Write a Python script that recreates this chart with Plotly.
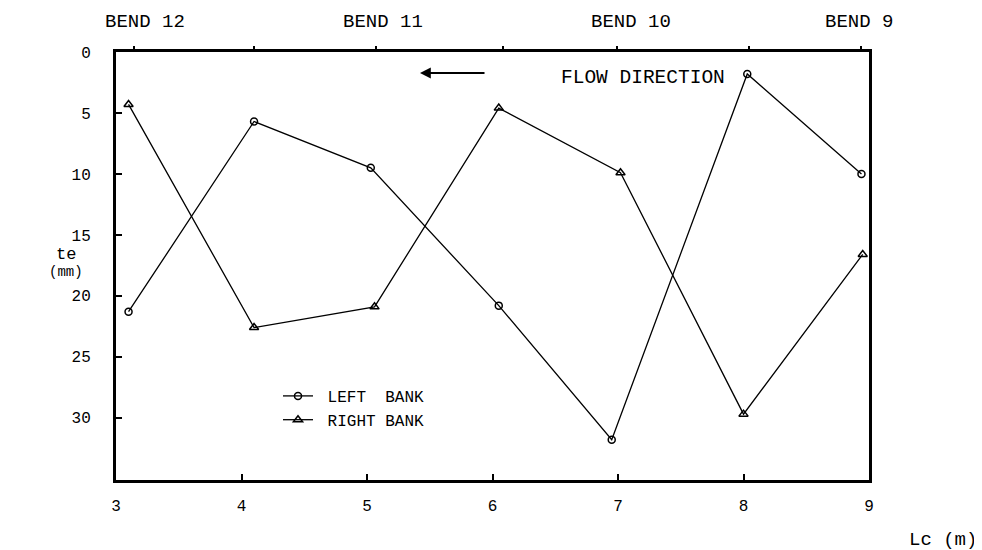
import plotly.graph_objects as go

# Data
left_x = [3.1, 4.1, 5.03, 6.05, 6.95, 8.03, 8.94]
left_te = [21.3, 5.7, 9.5, 20.8, 31.8, 1.8, 10.0]
right_x = [3.1, 4.1, 5.06, 6.05, 7.02, 8.0, 8.95]
right_te = [4.3, 22.6, 20.9, 4.6, 9.9, 29.7, 16.6]
station_x = [3.14, 4.1, 5.07, 6.08, 6.99, 8.04, 8.94]
x_ticks = [3, 4, 5, 6, 7, 8, 9]
y_ticks = [0, 5, 10, 15, 20, 25, 30]
bend_labels = ["BEND 12", "BEND 11", "BEND 10", "BEND 9"]
bend_x = [3.23, 5.13, 7.1, 8.92]
series_names = ["\u00a0LEFT  BANK", "\u00a0RIGHT BANK"]

FONT = "Liberation Mono"
OFF = 8  # default page body margin of the html page
W, H = 982 - OFF, 550 - OFF
# plot area in page pixels: left 116, right 869, top 52, bottom 480
pl = 116 - OFF
pt = 52 - OFF
pr = W - (869 - OFF)
pb = H - (480 - OFF)
pw, ph = W - pl - pr, H - pt - pb


def px_to_paper(px, py):
    """page pixel -> paper coordinates"""
    fx, fy = px - OFF, py - OFF
    return (fx - pl) / pw, 1 - (fy - pt) / ph


fig = go.Figure()
fig.add_trace(go.Scatter(
    x=left_x, y=left_te, mode="lines+markers", name=series_names[0],
    line=dict(color="black", width=1.3),
    marker=dict(symbol="circle-open", size=7, color="black", line=dict(width=1.5)),
))
fig.add_trace(go.Scatter(
    x=right_x, y=right_te, mode="lines+markers", name=series_names[1],
    line=dict(color="black", width=1.3),
    marker=dict(symbol="triangle-up-open", size=8, color="black", line=dict(width=1.5)),
))
# invisible trace to activate the top axis (station ticks)
fig.add_trace(go.Scatter(x=station_x, y=[None] * len(station_x), xaxis="x2",
                         showlegend=False, hoverinfo="skip"))

fig.update_layout(
    width=W, height=H,
    margin=dict(l=pl, r=pr, t=pt, b=pb),
    paper_bgcolor="white", plot_bgcolor="white",
    font=dict(family=FONT, size=16, color="black"),
    xaxis=dict(range=[3, 9], tickvals=x_ticks, ticks="inside", ticklen=6,
               tickwidth=1.5, tickcolor="black", showgrid=False, zeroline=False,
               showline=True, linecolor="black", linewidth=3, mirror=True,
               ticklabelstandoff=9, tickfont=dict(size=16)),
    xaxis2=dict(range=[3, 9], overlaying="x", side="top", tickvals=station_x,
                ticks="outside", ticklen=5, tickwidth=1.5, tickcolor="black",
                showticklabels=False, showgrid=False, zeroline=False, showline=False),
    yaxis=dict(range=[35.1, 0], tickvals=y_ticks, ticks="inside", ticklen=6,
               tickwidth=1.5, tickcolor="black", showgrid=False, zeroline=False,
               showline=True, linecolor="black", linewidth=3, mirror=True,
               ticklabelstandoff=19, tickfont=dict(size=16)),
    legend=dict(x=px_to_paper(278, 0)[0], y=px_to_paper(0, 379)[1],
                xanchor="left", yanchor="top",
                bgcolor="rgba(0,0,0,0)", font=dict(size=16, family=FONT),
                itemwidth=30, tracegroupgap=8),
    showlegend=True,
)

for lab, bx in zip(bend_labels, bend_x):
    fig.add_annotation(x=bx, y=1.0, xref="x", yref="paper", yshift=30,
                       xanchor="center", yanchor="middle",
                       text=lab, showarrow=False, font=dict(size=19, family=FONT))

fx, fy = px_to_paper(643, 78)
fig.add_annotation(x=fx, y=fy, xref="paper", yref="paper", text="FLOW DIRECTION",
                   xanchor="center", yanchor="middle",
                   showarrow=False, font=dict(size=19.5, family=FONT))
hx, hy = px_to_paper(420, 73)
fig.add_annotation(x=hx, y=hy, xref="paper", yref="paper", ax=66, ay=0, text="",
                   showarrow=True, arrowhead=2, arrowsize=1.2, arrowwidth=1.8,
                   arrowcolor="black")

ax_te = px_to_paper(66, 254)
ax_mm = px_to_paper(66, 272)
ax_lc = px_to_paper(943, 540)
fig.add_annotation(x=ax_te[0], y=ax_te[1], xref="paper", yref="paper", text="te",
                   xanchor="center", yanchor="middle",
                   showarrow=False, font=dict(size=17, family=FONT))
fig.add_annotation(x=ax_mm[0], y=ax_mm[1], xref="paper", yref="paper", text="(mm)",
                   xanchor="center", yanchor="middle",
                   showarrow=False, font=dict(size=14, family=FONT))
fig.add_annotation(x=ax_lc[0], y=ax_lc[1], xref="paper", yref="paper", text="Lc (m)",
                   xanchor="center", yanchor="middle",
                   showarrow=False, font=dict(size=19, family=FONT))

fig.write_html("out.html")
